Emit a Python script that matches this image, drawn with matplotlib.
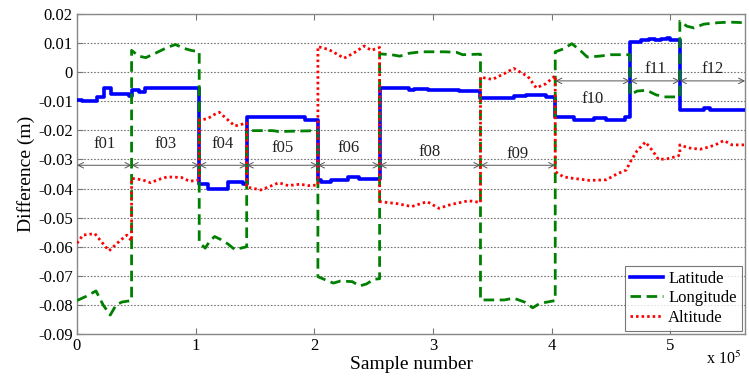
import matplotlib
matplotlib.use("Agg")
import matplotlib.pyplot as plt
import numpy as np

plt.rcParams['font.family'] = ['Liberation Serif', 'DejaVu Serif']
plt.rcParams['mathtext.fontset'] = 'stix'

# Segment boundaries (x 1e5 samples) and labels
bounds = [0, 0.46, 1.03, 1.43, 2.03, 2.55, 3.40, 4.03, 4.66, 5.08, 5.63]
seg_labels = ['f01', 'f03', 'f04', 'f05', 'f06', 'f08', 'f09', 'f10', 'f11', 'f12']
arrow_y = [-0.032]*7 + [-0.003]*3
label_y = [-0.0247, -0.0247, -0.0247, -0.026, -0.026, -0.0273, -0.028, -0.0092, 0.0012, 0.0012]

# Latitude (step series)
lat_x = [0.00, 0.04, 0.17, 0.23, 0.29, 0.44, 0.46, 0.52, 0.57, 1.03, 1.10, 1.27, 1.40,
         1.43, 1.92, 2.03, 2.06, 2.14, 2.28, 2.38, 2.55, 2.80, 2.84, 2.96, 3.10, 3.22,
         3.40, 3.68, 3.78, 3.95, 4.03, 4.19, 4.36, 4.46, 4.62, 4.66, 4.75, 4.82, 4.87,
         4.92, 4.97, 5.00, 5.08, 5.28, 5.33, 5.63]
lat_y = [-0.0095, -0.0100, -0.0085, -0.0055, -0.0075, -0.0083, -0.0060, -0.0068, -0.0056,
         -0.0384, -0.0400, -0.0376, -0.0385, -0.0155, -0.0163, -0.0370, -0.0378, -0.0370,
         -0.0362, -0.0368, -0.0055, -0.0062, -0.0058, -0.0062, -0.0060, -0.0064, -0.0088,
         -0.0082, -0.0077, -0.0085, -0.0153, -0.0165, -0.0158, -0.0165, -0.0155, 0.0105,
         0.0110, 0.0115, 0.0110, 0.0115, 0.0118, 0.0112, -0.0130, -0.0122, -0.0130, -0.0130]

# Longitude
lon_x = [0, 0.08, 0.16, 0.22, 0.28, 0.33, 0.38, 0.46,
         0.46, 0.52, 0.58, 0.66, 0.76, 0.83, 0.90, 0.96, 1.03,
         1.03, 1.08, 1.12, 1.16, 1.21, 1.27, 1.33, 1.38, 1.43,
         1.43, 1.65, 1.70, 2.03,
         2.03, 2.10, 2.16, 2.22, 2.32, 2.38, 2.44, 2.50, 2.55,
         2.55, 2.65, 2.72, 2.80, 2.90, 3.10, 3.20, 3.25, 3.40,
         3.40, 3.60, 3.68, 3.77, 3.84, 3.90, 4.03,
         4.03, 4.10, 4.17, 4.24, 4.30, 4.40, 4.50, 4.66,
         4.66, 4.72, 4.80, 4.88, 4.95, 5.08,
         5.08, 5.14, 5.20, 5.28, 5.40, 5.50, 5.63]
lon_y = [-0.0785, -0.0770, -0.0752, -0.0800, -0.0835, -0.0800, -0.0790, -0.0785,
         0.0075, 0.0055, 0.0050, 0.0065, 0.0085, 0.0095, 0.0082, 0.0075, 0.0070,
         -0.0585, -0.0605, -0.0580, -0.0565, -0.0575, -0.0590, -0.0610, -0.0605, -0.0600,
         -0.0201, -0.0201, -0.0204, -0.0201,
         -0.0703, -0.0715, -0.0725, -0.0718, -0.0720, -0.0735, -0.0728, -0.0712, -0.0710,
         0.0063, 0.0060, 0.0055, 0.0065, 0.0070, 0.0070, 0.0068, 0.0060, 0.0062,
         -0.0783, -0.0783, -0.0777, -0.0790, -0.0810, -0.0795, -0.0785,
         0.0070, 0.0080, 0.0098, 0.0075, 0.0052, 0.0055, 0.0060, 0.0060,
         -0.0078, -0.0065, -0.0062, -0.0078, -0.0085, -0.0085,
         0.0175, 0.0158, 0.0152, 0.0165, 0.0170, 0.0172, 0.0170]

# Altitude
alt_x = [0, 0.05, 0.15, 0.20, 0.27, 0.36, 0.42, 0.46,
         0.46, 0.55, 0.62, 0.68, 0.76, 0.88, 0.95, 1.03,
         1.03, 1.10, 1.16, 1.20, 1.26, 1.33, 1.38, 1.43,
         1.43, 1.55, 1.63, 1.70, 1.78, 1.88, 1.95, 2.03,
         2.03, 2.12, 2.20, 2.25, 2.33, 2.42, 2.48, 2.55,
         2.55, 2.70, 2.82, 2.95, 3.05, 3.15, 3.30, 3.40,
         3.40, 3.50, 3.60, 3.68, 3.80, 3.87, 3.95, 4.03,
         4.03, 4.10, 4.18, 4.32, 4.46, 4.55, 4.63, 4.66,
         4.66, 4.72, 4.79, 4.85, 4.90, 4.97, 5.05, 5.08,
         5.08, 5.15, 5.25, 5.30, 5.38, 5.45, 5.52, 5.63]
alt_y = [-0.0588, -0.0560, -0.0555, -0.0580, -0.0614, -0.0580, -0.0560, -0.0580,
         -0.0365, -0.0370, -0.0380, -0.0370, -0.0360, -0.0362, -0.0375, -0.0370,
         -0.0165, -0.0160, -0.0145, -0.0138, -0.0160, -0.0185, -0.0180, -0.0175,
         -0.0395, -0.0405, -0.0392, -0.0380, -0.0390, -0.0385, -0.0390, -0.0388,
         0.0088, 0.0078, 0.0060, 0.0048, 0.0065, 0.0090, 0.0075, 0.0085,
         -0.0445, -0.0452, -0.0462, -0.0445, -0.0468, -0.0455, -0.0442, -0.0448,
         -0.0017, -0.0025, -0.0005, 0.0013, -0.0015, -0.0054, -0.0040, -0.0012,
         -0.0342, -0.0360, -0.0365, -0.0372, -0.0370, -0.0350, -0.0336, -0.0310,
         -0.0310, -0.0270, -0.0240, -0.0270, -0.0300, -0.0298, -0.0290, -0.0285,
         -0.0250, -0.0260, -0.0265, -0.0260, -0.0250, -0.0235, -0.0250, -0.0250]

fig = plt.figure(figsize=(7.49, 3.77), dpi=100)
ax = fig.add_axes([0.1028, 0.1141, 0.892, 0.8488])

ax.plot(lat_x, lat_y, color='#0000ff', lw=2.6, drawstyle='steps-post', label='Latitude', zorder=3)
ax.plot(lon_x, lon_y, color='#008000', lw=2.0, ls=(0, (3.8, 2.0)), label='Longitude', zorder=4)
ax.plot(alt_x, alt_y, color='#ff0000', lw=2.0, ls=(0, (0.9, 1.1)), label='Altitude', zorder=5)

for i, lab in enumerate(seg_labels):
    x0, x1 = bounds[i], bounds[i+1]
    ax.annotate('', xy=(x0, arrow_y[i]), xytext=(x1, arrow_y[i]),
                arrowprops=dict(arrowstyle='<->', color='#555555', lw=0.7,
                                shrinkA=0, shrinkB=0, mutation_scale=10), zorder=6)
    ax.text((x0 + x1) / 2, label_y[i], lab, ha='center', va='center', fontsize=12,
            color='#222222', zorder=7)

ax.set_xlim(0, 5.63)
ax.set_ylim(-0.09, 0.02)
ax.set_xticks([0, 1, 2, 3, 4, 5])
ax.set_xticklabels(['0', '1', '2', '3', '4', '5'])
yt = np.arange(-0.09, 0.0201, 0.01)
ax.set_yticks(yt)
ax.set_yticklabels(['-0.09', '-0.08', '-0.07', '-0.06', '-0.05', '-0.04', '-0.03',
                    '-0.02', '-0.01', '0', '0.01', '0.02'])
ax.yaxis.grid(True, ls=(0, (1.5, 1.5)), color='#777777', lw=0.8)
ax.tick_params(axis='both', direction='in', labelsize=12, color='#777777',
               top=True, right=False, length=4, pad=3)
for s in ax.spines.values():
    s.set_color('#888888')
    s.set_linewidth(1.0)

ax.set_xlabel('Sample number', fontsize=14, labelpad=1)
ax.set_ylabel('Difference (m)', fontsize=14, labelpad=2)
fig.text(0.943, 0.025, 'x 10$^5$', fontsize=11.5, ha='left', va='bottom')

leg = ax.legend(loc='lower right', fontsize=12, frameon=True, fancybox=False,
                edgecolor='#555555', handlelength=2.0, borderpad=0.3,
                labelspacing=0.2, handletextpad=0.3, borderaxespad=0.2)
leg.get_frame().set_linewidth(0.8)

fig.savefig('out.png', dpi=100)
